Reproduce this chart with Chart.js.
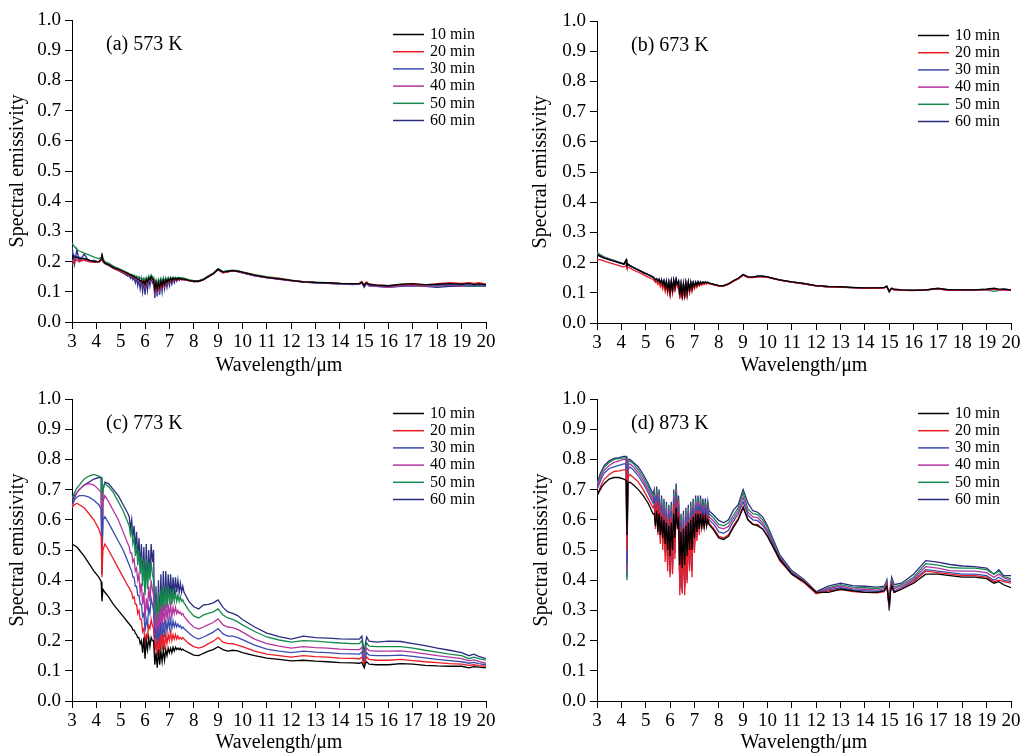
<!DOCTYPE html>
<html lang="en">
<head>
<meta charset="UTF-8">
<title>Spectral emissivity vs wavelength</title>
<script src="https://cdn.jsdelivr.net/npm/chart.js"></script>
<style>
  body { margin: 0; background: #fff; }
  .panel { position: absolute; }
</style>
</head>
<body>
<canvas id="chartA" class="panel" width="512" height="376" style="left:0;top:0"></canvas>
<canvas id="chartB" class="panel" width="511" height="376" style="left:512px;top:0"></canvas>
<canvas id="chartC" class="panel" width="512" height="377" style="left:0;top:376px"></canvas>
<canvas id="chartD" class="panel" width="511" height="377" style="left:512px;top:376px"></canvas>

<script>
// wavelength grid (µm), shared by all panels; denser where the spectra are noisy
var WAVELENGTH = [3.0,3.1,3.2,3.3,3.5,3.7,3.9,4.1,4.2,4.23,4.27,4.35,4.5,4.7,4.9,5.1,5.3,
  5.35,5.4,5.45,5.5,5.55,5.6,5.65,5.7,5.75,5.8,
  5.85,5.9,5.95,6.0,6.05,6.1,6.15,6.2,6.25,6.3,
  6.35,6.4,6.45,6.5,6.55,6.6,6.65,6.7,6.75,6.8,
  6.85,6.9,6.95,7.0,7.05,7.1,7.15,7.2,7.25,7.3,
  7.35,7.4,7.45,7.5,7.55,7.6,
  7.8,8.0,8.2,8.4,8.6,8.8,9.0,9.2,9.4,9.6,9.8,10.0,
  10.5,11.0,11.5,12.0,12.5,13.0,13.5,14.0,14.5,14.8,14.9,15.0,15.05,15.1,15.2,15.5,16.0,16.5,17.0,17.5,18.0,18.5,19.0,19.3,19.5,19.7,20.0];

var TIME_LABELS = ['10 min', '20 min', '30 min', '40 min', '50 min', '60 min'];
var PANEL_TITLES = ['(a) 573 K', '(b) 673 K', '(c) 773 K', '(d) 873 K'];

// (a) 573 K
var em573_10 = [0.22,0.215,0.215,0.21,0.21,0.205,0.20,0.20,0.21,0.225,0.205,0.195,0.19,0.18,0.175,0.168,0.16,
  0.158,0.156,0.155,0.152,0.15,0.147,0.146,0.142,0.142,0.136,
  0.138,0.128,0.136,0.125,0.14,0.132,0.145,0.14,0.15,0.144,
  0.14,0.11,0.13,0.11,0.13,0.115,0.135,0.12,0.138,0.125,
  0.14,0.132,0.142,0.135,0.145,0.138,0.145,0.14,0.145,0.14,
  0.145,0.142,0.145,0.142,0.143,0.142,
  0.138,0.135,0.135,0.14,0.15,0.16,0.175,0.165,0.168,0.17,0.168,0.165,
  0.155,0.148,0.143,0.138,0.133,0.131,0.13,0.128,0.127,0.127,0.132,0.12,0.128,0.13,0.125,0.122,0.12,0.125,0.127,0.124,0.125,0.127,0.125,0.128,0.124,0.126,0.124];
var em573_20 = [0.19,0.2,0.205,0.2,0.205,0.2,0.198,0.198,0.205,0.22,0.2,0.195,0.188,0.178,0.172,0.165,0.158,
  0.156,0.154,0.153,0.15,0.148,0.145,0.145,0.14,0.14,0.133,
  0.136,0.126,0.134,0.122,0.138,0.13,0.143,0.138,0.148,0.142,
  0.138,0.105,0.128,0.105,0.128,0.11,0.13,0.115,0.135,0.12,
  0.138,0.13,0.14,0.132,0.142,0.136,0.143,0.138,0.143,0.138,
  0.143,0.14,0.143,0.14,0.141,0.14,
  0.137,0.134,0.134,0.14,0.15,0.16,0.173,0.163,0.166,0.17,0.168,0.164,
  0.155,0.148,0.144,0.138,0.134,0.131,0.13,0.128,0.127,0.128,0.134,0.122,0.13,0.132,0.125,0.123,0.12,0.124,0.125,0.122,0.127,0.13,0.128,0.13,0.128,0.13,0.125];
var em573_30 = [0.23,0.22,0.215,0.215,0.21,0.205,0.2,0.2,0.205,0.22,0.2,0.195,0.19,0.18,0.173,0.166,0.158,
  0.156,0.153,0.152,0.149,0.148,0.143,0.145,0.136,0.14,0.128,
  0.136,0.122,0.135,0.118,0.138,0.125,0.142,0.135,0.148,0.14,
  0.135,0.1,0.126,0.1,0.128,0.105,0.13,0.112,0.135,0.118,
  0.136,0.128,0.14,0.13,0.141,0.135,0.143,0.138,0.143,0.138,
  0.143,0.14,0.143,0.14,0.141,0.14,
  0.137,0.134,0.135,0.14,0.152,0.16,0.174,0.165,0.167,0.17,0.167,0.163,
  0.154,0.147,0.142,0.137,0.132,0.13,0.128,0.126,0.125,0.126,0.13,0.118,0.125,0.128,0.122,0.12,0.118,0.122,0.124,0.12,0.122,0.124,0.122,0.124,0.12,0.123,0.121];
var em573_40 = [0.2,0.21,0.21,0.205,0.205,0.2,0.198,0.198,0.205,0.222,0.2,0.195,0.188,0.178,0.172,0.165,0.157,
  0.155,0.152,0.152,0.148,0.148,0.142,0.145,0.135,0.14,0.128,
  0.135,0.12,0.134,0.115,0.138,0.125,0.142,0.135,0.148,0.14,
  0.136,0.1,0.125,0.1,0.128,0.105,0.13,0.112,0.135,0.12,
  0.135,0.128,0.14,0.13,0.14,0.135,0.142,0.137,0.142,0.138,
  0.142,0.14,0.142,0.14,0.141,0.14,
  0.137,0.134,0.134,0.14,0.15,0.16,0.172,0.163,0.166,0.169,0.167,0.163,
  0.153,0.146,0.141,0.136,0.132,0.13,0.128,0.126,0.125,0.125,0.13,0.118,0.124,0.127,0.12,0.118,0.115,0.12,0.122,0.118,0.12,0.122,0.118,0.122,0.12,0.122,0.12];
var em573_50 = [0.26,0.25,0.24,0.235,0.228,0.222,0.215,0.21,0.215,0.23,0.21,0.2,0.195,0.185,0.178,0.17,0.163,
  0.16,0.158,0.158,0.155,0.155,0.152,0.152,0.148,0.15,0.145,
  0.147,0.14,0.146,0.135,0.148,0.14,0.152,0.145,0.155,0.15,
  0.148,0.125,0.14,0.125,0.142,0.13,0.145,0.132,0.145,0.135,
  0.146,0.138,0.147,0.14,0.148,0.142,0.148,0.145,0.148,0.145,
  0.148,0.146,0.147,0.146,0.146,0.145,
  0.14,0.137,0.137,0.143,0.153,0.162,0.177,0.167,0.17,0.172,0.17,0.166,
  0.157,0.15,0.145,0.139,0.134,0.132,0.13,0.128,0.126,0.126,0.13,0.12,0.126,0.128,0.122,0.12,0.118,0.122,0.123,0.12,0.12,0.122,0.12,0.12,0.118,0.12,0.12];
var em573_60 = [0.25,0.19,0.24,0.2,0.225,0.2,0.205,0.198,0.205,0.22,0.2,0.193,0.187,0.177,0.17,0.162,0.152,
  0.155,0.145,0.152,0.14,0.148,0.13,0.145,0.12,0.142,0.11,
  0.14,0.10,0.138,0.09,0.14,0.105,0.145,0.12,0.15,0.13,
  0.14,0.08,0.13,0.085,0.135,0.09,0.138,0.10,0.14,0.11,
  0.14,0.115,0.142,0.12,0.143,0.125,0.145,0.13,0.145,0.135,
  0.145,0.138,0.145,0.14,0.143,0.14,
  0.137,0.134,0.135,0.142,0.152,0.16,0.175,0.164,0.167,0.17,0.168,0.163,
  0.153,0.147,0.142,0.137,0.133,0.13,0.128,0.126,0.124,0.125,0.13,0.115,0.123,0.126,0.12,0.118,0.115,0.118,0.12,0.118,0.115,0.118,0.118,0.12,0.118,0.12,0.118];

// (b) 673 K
var em673_10 = [0.225,0.222,0.218,0.215,0.21,0.205,0.2,0.195,0.21,0.19,0.195,0.19,0.183,0.175,0.167,0.16,0.152,
  0.148,0.143,0.146,0.139,0.144,0.133,0.142,0.126,0.139,0.119,
  0.137,0.11,0.134,0.103,0.137,0.109,0.141,0.119,0.144,0.128,
  0.137,0.092,0.129,0.09,0.131,0.092,0.132,0.1,0.134,0.11,
  0.134,0.115,0.134,0.121,0.135,0.125,0.136,0.128,0.136,0.13,
  0.136,0.132,0.136,0.133,0.135,0.132,
  0.128,0.124,0.124,0.13,0.14,0.148,0.16,0.153,0.152,0.155,0.155,0.153,
  0.143,0.136,0.131,0.124,0.121,0.12,0.118,0.116,0.116,0.118,0.122,0.105,0.11,0.115,0.112,0.11,0.108,0.11,0.115,0.11,0.11,0.11,0.112,0.115,0.112,0.112,0.11];
var em673_20 = [0.21,0.21,0.208,0.205,0.2,0.195,0.19,0.185,0.19,0.182,0.186,0.182,0.175,0.168,0.16,0.152,0.144,
  0.14,0.134,0.138,0.128,0.136,0.12,0.133,0.112,0.13,0.104,
  0.127,0.098,0.124,0.092,0.127,0.098,0.132,0.108,0.136,0.118,
  0.128,0.08,0.12,0.078,0.122,0.08,0.124,0.09,0.126,0.1,
  0.127,0.105,0.127,0.113,0.128,0.118,0.13,0.122,0.13,0.125,
  0.131,0.127,0.131,0.129,0.131,0.13,
  0.126,0.122,0.122,0.128,0.138,0.146,0.158,0.15,0.15,0.153,0.153,0.151,
  0.142,0.135,0.13,0.123,0.12,0.118,0.117,0.115,0.115,0.116,0.12,0.105,0.11,0.114,0.11,0.108,0.107,0.11,0.113,0.108,0.108,0.11,0.11,0.112,0.11,0.11,0.108];
var em673_30 = [0.225,0.222,0.218,0.215,0.21,0.205,0.2,0.195,0.198,0.19,0.194,0.19,0.183,0.175,0.167,0.16,0.152,
  0.148,0.142,0.146,0.138,0.144,0.132,0.142,0.125,0.138,0.118,
  0.136,0.109,0.133,0.101,0.136,0.107,0.14,0.117,0.143,0.127,
  0.136,0.09,0.128,0.087,0.13,0.089,0.131,0.097,0.133,0.107,
  0.133,0.113,0.133,0.12,0.134,0.124,0.135,0.127,0.135,0.129,
  0.135,0.131,0.135,0.132,0.134,0.132,
  0.127,0.123,0.123,0.129,0.139,0.147,0.159,0.152,0.151,0.154,0.154,0.152,
  0.142,0.135,0.13,0.123,0.12,0.119,0.117,0.115,0.115,0.117,0.12,0.103,0.11,0.114,0.111,0.109,0.108,0.11,0.113,0.109,0.109,0.11,0.111,0.113,0.11,0.112,0.11];
var em673_40 = [0.228,0.224,0.22,0.216,0.211,0.206,0.201,0.196,0.198,0.19,0.194,0.19,0.183,0.176,0.168,0.16,0.152,
  0.147,0.141,0.145,0.137,0.143,0.131,0.141,0.124,0.137,0.117,
  0.135,0.108,0.132,0.1,0.135,0.106,0.139,0.116,0.142,0.126,
  0.135,0.088,0.127,0.086,0.129,0.088,0.13,0.096,0.132,0.106,
  0.132,0.112,0.132,0.119,0.133,0.123,0.134,0.126,0.134,0.128,
  0.134,0.13,0.134,0.131,0.133,0.131,
  0.127,0.123,0.123,0.129,0.139,0.147,0.159,0.152,0.151,0.154,0.154,0.152,
  0.142,0.135,0.13,0.123,0.12,0.119,0.117,0.115,0.115,0.117,0.12,0.103,0.11,0.114,0.11,0.108,0.108,0.11,0.112,0.108,0.108,0.11,0.11,0.112,0.108,0.11,0.108];
var em673_50 = [0.235,0.228,0.222,0.218,0.212,0.207,0.202,0.197,0.2,0.19,0.195,0.19,0.184,0.176,0.168,0.16,0.152,
  0.148,0.142,0.146,0.138,0.144,0.132,0.142,0.125,0.138,0.118,
  0.136,0.11,0.133,0.102,0.136,0.108,0.14,0.118,0.143,0.127,
  0.136,0.09,0.128,0.088,0.13,0.09,0.131,0.098,0.133,0.108,
  0.133,0.113,0.133,0.12,0.134,0.124,0.135,0.127,0.135,0.129,
  0.135,0.131,0.135,0.132,0.134,0.132,
  0.128,0.124,0.124,0.13,0.14,0.148,0.16,0.152,0.152,0.155,0.154,0.152,
  0.142,0.135,0.13,0.123,0.12,0.119,0.117,0.115,0.115,0.117,0.12,0.104,0.11,0.114,0.11,0.108,0.108,0.11,0.113,0.108,0.108,0.108,0.11,0.105,0.108,0.11,0.11];
var em673_60 = [0.232,0.226,0.222,0.218,0.212,0.206,0.2,0.196,0.198,0.19,0.194,0.19,0.184,0.176,0.168,0.16,0.152,
  0.148,0.14,0.146,0.135,0.145,0.128,0.143,0.12,0.14,0.112,
  0.138,0.105,0.135,0.098,0.138,0.105,0.142,0.115,0.145,0.125,
  0.138,0.085,0.13,0.085,0.132,0.088,0.133,0.095,0.135,0.105,
  0.135,0.11,0.134,0.118,0.135,0.122,0.136,0.125,0.136,0.128,
  0.136,0.13,0.136,0.132,0.135,0.132,
  0.128,0.124,0.124,0.13,0.14,0.148,0.161,0.153,0.152,0.155,0.155,0.153,
  0.143,0.136,0.13,0.123,0.12,0.119,0.117,0.115,0.115,0.117,0.122,0.103,0.11,0.115,0.112,0.11,0.108,0.11,0.114,0.11,0.11,0.11,0.112,0.114,0.11,0.112,0.11];

// (c) 773 K
var em773_10 = [0.52,0.515,0.51,0.50,0.48,0.455,0.43,0.41,0.395,0.33,0.37,0.36,0.345,0.32,0.30,0.28,0.26,
  0.255,0.25,0.245,0.235,0.235,0.225,0.22,0.21,0.21,0.19,
  0.20,0.16,0.21,0.14,0.20,0.17,0.21,0.18,0.21,0.20,
  0.20,0.12,0.16,0.11,0.17,0.12,0.165,0.13,0.17,0.135,
  0.17,0.15,0.175,0.16,0.175,0.16,0.178,0.165,0.178,0.17,
  0.175,0.17,0.175,0.168,0.172,0.168,
  0.16,0.152,0.15,0.158,0.165,0.17,0.18,0.17,0.165,0.168,0.166,0.16,
  0.15,0.142,0.138,0.133,0.135,0.132,0.13,0.127,0.126,0.125,0.128,0.11,0.125,0.13,0.122,0.12,0.12,0.124,0.122,0.118,0.116,0.115,0.115,0.11,0.114,0.112,0.11];
var em773_20 = [0.64,0.65,0.655,0.65,0.64,0.62,0.60,0.57,0.545,0.41,0.50,0.52,0.50,0.47,0.44,0.41,0.38,
  0.375,0.365,0.36,0.34,0.345,0.32,0.32,0.29,0.30,0.27,
  0.27,0.23,0.24,0.19,0.22,0.21,0.25,0.24,0.27,0.25,
  0.24,0.16,0.20,0.15,0.21,0.15,0.22,0.17,0.22,0.17,
  0.22,0.19,0.22,0.20,0.23,0.20,0.22,0.205,0.22,0.205,
  0.215,0.205,0.21,0.205,0.21,0.205,
  0.19,0.18,0.175,0.18,0.19,0.198,0.21,0.195,0.19,0.19,0.185,0.18,
  0.165,0.155,0.15,0.145,0.15,0.147,0.145,0.142,0.141,0.14,0.145,0.12,0.135,0.145,0.138,0.135,0.135,0.138,0.134,0.13,0.127,0.124,0.122,0.118,0.12,0.117,0.115];
var em773_30 = [0.65,0.665,0.675,0.68,0.68,0.675,0.665,0.65,0.635,0.45,0.60,0.61,0.59,0.56,0.53,0.50,0.46,
  0.45,0.44,0.43,0.41,0.41,0.38,0.38,0.35,0.35,0.32,
  0.32,0.28,0.29,0.23,0.27,0.25,0.31,0.29,0.34,0.32,
  0.30,0.19,0.24,0.18,0.25,0.18,0.26,0.20,0.26,0.21,
  0.27,0.23,0.27,0.24,0.27,0.24,0.265,0.245,0.26,0.245,
  0.255,0.245,0.25,0.24,0.245,0.24,
  0.225,0.212,0.205,0.212,0.22,0.228,0.24,0.222,0.215,0.215,0.21,0.203,
  0.185,0.172,0.165,0.16,0.165,0.162,0.16,0.157,0.156,0.155,0.162,0.125,0.145,0.16,0.152,0.15,0.15,0.152,0.148,0.143,0.138,0.134,0.13,0.125,0.128,0.124,0.12];
var em773_40 = [0.64,0.67,0.69,0.70,0.715,0.72,0.715,0.70,0.69,0.44,0.66,0.68,0.66,0.63,0.60,0.56,0.52,
  0.51,0.49,0.49,0.46,0.47,0.43,0.44,0.40,0.42,0.36,
  0.39,0.32,0.36,0.27,0.34,0.30,0.38,0.33,0.40,0.37,
  0.35,0.21,0.29,0.20,0.30,0.21,0.31,0.24,0.32,0.25,
  0.32,0.27,0.32,0.28,0.32,0.28,0.31,0.29,0.31,0.29,
  0.30,0.29,0.295,0.285,0.29,0.28,
  0.26,0.245,0.238,0.245,0.253,0.26,0.272,0.252,0.245,0.243,0.237,0.228,
  0.205,0.19,0.182,0.175,0.18,0.177,0.175,0.172,0.17,0.17,0.178,0.135,0.16,0.175,0.167,0.165,0.165,0.166,0.162,0.156,0.15,0.145,0.14,0.133,0.136,0.131,0.125];
var em773_50 = [0.67,0.69,0.705,0.715,0.735,0.745,0.75,0.745,0.74,0.43,0.70,0.72,0.71,0.69,0.66,0.63,0.59,
  0.58,0.55,0.57,0.52,0.54,0.48,0.52,0.45,0.50,0.42,
  0.48,0.38,0.47,0.35,0.47,0.37,0.46,0.40,0.46,0.42,
  0.40,0.24,0.34,0.22,0.36,0.24,0.37,0.28,0.38,0.30,
  0.38,0.31,0.38,0.32,0.37,0.32,0.36,0.33,0.36,0.33,
  0.35,0.33,0.345,0.33,0.335,0.325,
  0.30,0.282,0.275,0.285,0.29,0.295,0.305,0.285,0.275,0.27,0.262,0.252,
  0.23,0.212,0.202,0.195,0.2,0.198,0.195,0.192,0.19,0.19,0.2,0.145,0.175,0.192,0.182,0.18,0.18,0.18,0.175,0.168,0.162,0.155,0.15,0.14,0.145,0.14,0.135];
var em773_60 = [0.66,0.68,0.69,0.70,0.715,0.725,0.735,0.74,0.74,0.42,0.70,0.725,0.72,0.70,0.68,0.65,0.62,
  0.61,0.57,0.60,0.54,0.58,0.50,0.56,0.47,0.54,0.44,
  0.52,0.40,0.51,0.36,0.52,0.38,0.50,0.41,0.52,0.46,
  0.50,0.22,0.38,0.20,0.40,0.25,0.42,0.27,0.43,0.30,
  0.43,0.31,0.42,0.34,0.42,0.34,0.41,0.35,0.41,0.36,
  0.40,0.36,0.39,0.36,0.38,0.36,
  0.33,0.312,0.305,0.318,0.32,0.325,0.335,0.31,0.295,0.29,0.283,0.27,
  0.245,0.225,0.213,0.205,0.215,0.21,0.208,0.206,0.205,0.205,0.215,0.16,0.19,0.212,0.198,0.195,0.198,0.197,0.19,0.183,0.175,0.168,0.16,0.15,0.155,0.148,0.14];

// (d) 873 K
var em873_10 = [0.68,0.695,0.71,0.72,0.735,0.74,0.74,0.735,0.73,0.55,0.72,0.725,0.715,0.70,0.68,0.655,0.62,
  0.62,0.58,0.63,0.56,0.62,0.55,0.61,0.54,0.60,0.52,
  0.59,0.50,0.58,0.48,0.59,0.50,0.62,0.54,0.64,0.58,
  0.60,0.45,0.56,0.44,0.57,0.45,0.58,0.48,0.59,0.50,
  0.60,0.50,0.61,0.54,0.62,0.56,0.62,0.57,0.62,0.575,
  0.61,0.575,0.61,0.58,0.60,0.585,
  0.565,0.54,0.535,0.545,0.575,0.60,0.64,0.60,0.585,0.58,0.57,0.545,
  0.47,0.42,0.395,0.36,0.36,0.37,0.365,0.36,0.36,0.365,0.38,0.32,0.36,0.38,0.36,0.37,0.39,0.42,0.42,0.415,0.41,0.41,0.405,0.39,0.395,0.385,0.375];
var em873_20 = [0.68,0.70,0.72,0.735,0.75,0.76,0.762,0.765,0.765,0.50,0.74,0.75,0.74,0.725,0.70,0.67,0.64,
  0.65,0.57,0.66,0.55,0.65,0.52,0.63,0.50,0.62,0.46,
  0.61,0.43,0.60,0.41,0.61,0.42,0.65,0.47,0.67,0.57,
  0.63,0.35,0.57,0.355,0.58,0.35,0.59,0.39,0.60,0.43,
  0.61,0.41,0.62,0.49,0.63,0.53,0.63,0.55,0.63,0.57,
  0.62,0.57,0.62,0.58,0.61,0.59,
  0.57,0.545,0.54,0.55,0.58,0.605,0.645,0.60,0.585,0.585,0.57,0.548,
  0.465,0.42,0.392,0.355,0.365,0.37,0.362,0.36,0.358,0.362,0.385,0.315,0.365,0.385,0.36,0.37,0.395,0.43,0.425,0.42,0.415,0.415,0.41,0.395,0.40,0.395,0.39];
var em873_30 = [0.70,0.72,0.74,0.755,0.77,0.775,0.78,0.785,0.785,0.45,0.765,0.775,0.765,0.745,0.72,0.69,0.655,
  0.67,0.59,0.68,0.57,0.67,0.54,0.65,0.52,0.64,0.49,
  0.63,0.45,0.62,0.42,0.63,0.43,0.67,0.49,0.69,0.59,
  0.65,0.37,0.59,0.36,0.60,0.37,0.61,0.40,0.62,0.44,
  0.63,0.43,0.64,0.50,0.65,0.54,0.65,0.56,0.65,0.58,
  0.64,0.58,0.64,0.59,0.63,0.60,
  0.585,0.56,0.555,0.565,0.595,0.62,0.66,0.615,0.60,0.597,0.582,0.558,
  0.472,0.425,0.395,0.357,0.368,0.375,0.368,0.365,0.363,0.367,0.39,0.31,0.37,0.39,0.365,0.375,0.40,0.435,0.43,0.425,0.42,0.42,0.415,0.40,0.41,0.40,0.395];
var em873_40 = [0.71,0.73,0.75,0.765,0.78,0.79,0.795,0.80,0.80,0.43,0.78,0.785,0.775,0.755,0.73,0.70,0.665,
  0.68,0.60,0.69,0.58,0.68,0.55,0.66,0.53,0.65,0.50,
  0.64,0.46,0.63,0.43,0.64,0.44,0.68,0.50,0.70,0.60,
  0.66,0.38,0.60,0.37,0.61,0.38,0.62,0.41,0.63,0.45,
  0.64,0.44,0.65,0.51,0.66,0.55,0.66,0.57,0.66,0.59,
  0.65,0.59,0.65,0.60,0.64,0.61,
  0.595,0.575,0.57,0.578,0.605,0.63,0.675,0.625,0.61,0.607,0.59,0.565,
  0.476,0.428,0.398,0.36,0.372,0.38,0.372,0.37,0.367,0.372,0.395,0.305,0.375,0.395,0.372,0.38,0.405,0.445,0.44,0.432,0.43,0.43,0.425,0.41,0.42,0.408,0.40];
var em873_50 = [0.72,0.74,0.76,0.775,0.79,0.80,0.803,0.805,0.805,0.40,0.79,0.795,0.785,0.765,0.74,0.71,0.675,
  0.69,0.61,0.70,0.59,0.69,0.56,0.67,0.54,0.66,0.51,
  0.65,0.47,0.64,0.43,0.65,0.45,0.69,0.51,0.71,0.61,
  0.67,0.39,0.61,0.38,0.62,0.39,0.63,0.42,0.64,0.46,
  0.65,0.45,0.66,0.52,0.67,0.56,0.67,0.58,0.67,0.60,
  0.66,0.60,0.66,0.61,0.65,0.62,
  0.605,0.585,0.58,0.59,0.615,0.64,0.69,0.635,0.62,0.617,0.60,0.575,
  0.48,0.43,0.40,0.36,0.375,0.385,0.377,0.375,0.372,0.377,0.40,0.30,0.38,0.40,0.377,0.385,0.41,0.455,0.45,0.442,0.44,0.44,0.435,0.42,0.43,0.412,0.405];
var em873_60 = [0.72,0.745,0.765,0.78,0.795,0.803,0.806,0.81,0.81,0.41,0.80,0.80,0.79,0.775,0.75,0.72,0.685,
  0.70,0.62,0.71,0.60,0.70,0.57,0.68,0.55,0.67,0.52,
  0.66,0.48,0.65,0.44,0.66,0.46,0.70,0.52,0.72,0.62,
  0.68,0.38,0.62,0.37,0.63,0.38,0.64,0.42,0.65,0.45,
  0.66,0.44,0.67,0.52,0.68,0.56,0.68,0.58,0.68,0.60,
  0.67,0.60,0.67,0.61,0.66,0.63,
  0.615,0.598,0.59,0.60,0.632,0.65,0.70,0.655,0.63,0.625,0.61,0.58,
  0.485,0.432,0.402,0.362,0.38,0.39,0.382,0.38,0.377,0.38,0.40,0.30,0.38,0.41,0.385,0.39,0.42,0.465,0.46,0.452,0.447,0.445,0.44,0.42,0.435,0.415,0.415];

var SERIES_COLORS = ['#000000', '#ee1c24', '#3a4cb0', '#b4359f', '#168a4c', '#2a2c82'];
var SERIF = '"Liberation Serif", "Times New Roman", serif';

// legend lines + panel caption, drawn inside the plot area
var innerLegend = {
  id: 'innerLegend',
  afterDraw: function(chart, args, opts) {
    var ctx = chart.ctx, area = chart.chartArea;
    ctx.save();
    ctx.textBaseline = 'middle';
    ctx.textAlign = 'left';
    ctx.font = '16px ' + SERIF;
    chart.data.datasets.forEach(function(ds, i) {
      var y = area.top + 14.5 + i * 17.2;
      var x0 = area.right - 93;
      ctx.strokeStyle = ds.borderColor;
      ctx.lineWidth = 1.5;
      ctx.beginPath();
      ctx.moveTo(x0, y);
      ctx.lineTo(x0 + 31, y);
      ctx.stroke();
      ctx.fillStyle = '#000';
      ctx.fillText(ds.label, x0 + 37, y);
    });
    ctx.font = '20px ' + SERIF;
    ctx.fillStyle = '#000';
    ctx.fillText(opts.caption, area.left + 34, area.top + 25);
    ctx.restore();
  }
};

function makePanel(id, series, caption, box) {
  var canvas = document.getElementById(id);
  var W = canvas.width, H = canvas.height;
  var datasets = series.map(function(vals, i) {
    if (vals.length !== WAVELENGTH.length) console.warn(id, i, vals.length);
    return {
      label: TIME_LABELS[i],
      data: WAVELENGTH.map(function(w, j) { return { x: w, y: vals[j] }; }),
      borderColor: SERIES_COLORS[i],
      borderWidth: 1.3,
      pointRadius: 0,
      tension: 0,
      fill: false
    };
  });
  var tickFont = { family: SERIF, size: 19 };
  return new Chart(canvas.getContext('2d'), {
    type: 'line',
    data: { datasets: datasets },
    plugins: [innerLegend],
    options: {
      responsive: false,
      animation: false,
      layout: { padding: { left: 0, top: box.top, right: W - box.right, bottom: 0 } },
      plugins: {
        legend: { display: false },
        tooltip: { enabled: false },
        innerLegend: { caption: caption }
      },
      scales: {
        x: {
          type: 'linear',
          min: 3, max: 20,
          afterFit: function(scale) { scale.height = H - box.bottom; },
          ticks: { stepSize: 1, autoSkip: false, maxRotation: 0, minRotation: 0, padding: 2,
                   color: '#000', font: tickFont },
          grid: { drawOnChartArea: false, drawTicks: true, tickLength: 7, color: '#000', lineWidth: 1 },
          border: { display: true, color: '#000', width: 1 },
          title: { display: true, text: 'Wavelength/μm', color: '#000',
                   font: { family: SERIF, size: 20, lineHeight: 1 }, padding: { top: 0, bottom: 0 } }
        },
        y: {
          min: 0, max: 1,
          afterFit: function(scale) { scale.width = box.left; },
          ticks: { stepSize: 0.1, autoSkip: false, padding: 4, color: '#000', font: tickFont,
                   callback: function(v) { return v.toFixed(1); } },
          grid: { drawOnChartArea: false, drawTicks: true, tickLength: 7, color: '#000', lineWidth: 1 },
          border: { display: true, color: '#000', width: 1 },
          title: { display: true, text: 'Spectral emissivity', color: '#000',
                   font: { family: SERIF, size: 20, lineHeight: 1.2 }, padding: { top: box.titlePad, bottom: 0 } }
        }
      }
    }
  });
}

makePanel('chartA', [em573_10, em573_20, em573_30, em573_40, em573_50, em573_60], PANEL_TITLES[0],
  { left: 72, right: 486, top: 20, bottom: 322, titlePad: 6 });
makePanel('chartB', [em673_10, em673_20, em673_30, em673_40, em673_50, em673_60], PANEL_TITLES[1],
  { left: 85, right: 499, top: 21, bottom: 323, titlePad: 17 });
makePanel('chartC', [em773_10, em773_20, em773_30, em773_40, em773_50, em773_60], PANEL_TITLES[2],
  { left: 72, right: 486, top: 23, bottom: 325, titlePad: 6 });
makePanel('chartD', [em873_10, em873_20, em873_30, em873_40, em873_50, em873_60], PANEL_TITLES[3],
  { left: 85, right: 499, top: 23, bottom: 325, titlePad: 18 });
</script>
</body>
</html>
